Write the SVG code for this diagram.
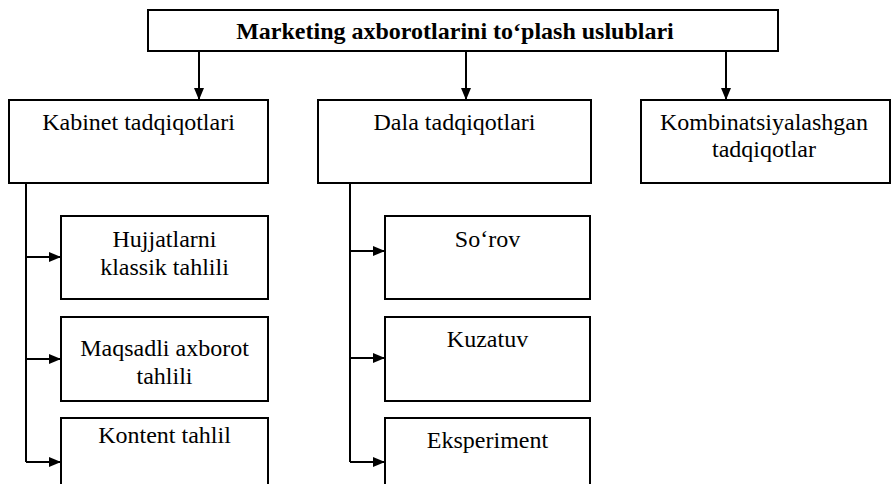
<svg xmlns="http://www.w3.org/2000/svg" width="891" height="484" viewBox="0 0 891 484">
<style>
.box{fill:#fff;stroke:#000;stroke-width:2}
.t{font-family:"Liberation Serif","Times New Roman",serif;font-size:24px;fill:#000;text-anchor:middle}
.tb{font-family:"Liberation Serif","Times New Roman",serif;font-size:24px;font-weight:bold;fill:#000;text-anchor:middle}
.c{fill:none;stroke:#000;stroke-width:2}
</style>
<defs>
<marker id="ah" viewBox="0 0 12 10" refX="12" refY="5" markerWidth="12" markerHeight="10" markerUnits="userSpaceOnUse" orient="auto">
<path d="M0,0 L12,5 L0,10 Z" fill="#000"/>
</marker>
</defs>
<rect width="891" height="484" fill="#fff"/>
<g id="connectors">
<line class="c" x1="199" y1="51" x2="199" y2="100" marker-end="url(#ah)"/>
<line class="c" x1="466" y1="51" x2="466" y2="100" marker-end="url(#ah)"/>
<line class="c" x1="726" y1="51" x2="726" y2="100" marker-end="url(#ah)"/>
<path class="c" d="M26,183 V462"/>
<path class="c" d="M26,257 H61" marker-end="url(#ah)"/>
<path class="c" d="M26,359 H61" marker-end="url(#ah)"/>
<path class="c" d="M26,462 H61" marker-end="url(#ah)"/>
<path class="c" d="M350,183 V462"/>
<path class="c" d="M350,251 H385" marker-end="url(#ah)"/>
<path class="c" d="M350,358 H385" marker-end="url(#ah)"/>
<path class="c" d="M350,462 H385" marker-end="url(#ah)"/>
</g>
<g id="root">
<rect class="box" x="148" y="10" width="630" height="41"/>
<text class="tb" x="455" y="39">Marketing axborotlarini to‘plash uslublari</text>
</g>
<g id="kabinet">
<rect class="box" x="9" y="100" width="259" height="83"/>
<text class="t" x="138.5" y="130">Kabinet tadqiqotlari</text>
</g>
<g id="dala">
<rect class="box" x="318" y="100" width="273" height="83"/>
<text class="t" x="454.5" y="130">Dala tadqiqotlari</text>
</g>
<g id="kombinat">
<rect class="box" x="641" y="100" width="249" height="83"/>
<text class="t" x="764" y="130">Kombinatsiyalashgan</text>
<text class="t" x="764" y="157">tadqiqotlar</text>
</g>
<g id="hujjat">
<rect class="box" x="61" y="216" width="207" height="83"/>
<text class="t" x="164.5" y="247">Hujjatlarni</text>
<text class="t" x="164.5" y="275">klassik tahlili</text>
</g>
<g id="maqsad">
<rect class="box" x="61" y="317" width="207" height="84"/>
<text class="t" x="164.5" y="356">Maqsadli axborot</text>
<text class="t" x="164.5" y="384">tahlili</text>
</g>
<g id="kontent">
<rect class="box" x="61" y="418" width="207" height="80"/>
<text class="t" x="164.5" y="443">Kontent tahlil</text>
</g>
<g id="sorov">
<rect class="box" x="385" y="216" width="205" height="83"/>
<text class="t" x="487.5" y="247">So‘rov</text>
</g>
<g id="kuzatuv">
<rect class="box" x="385" y="317" width="205" height="84"/>
<text class="t" x="487.5" y="347">Kuzatuv</text>
</g>
<g id="eksperiment">
<rect class="box" x="385" y="418" width="205" height="80"/>
<text class="t" x="487.5" y="448">Eksperiment</text>
</g>
</svg>
